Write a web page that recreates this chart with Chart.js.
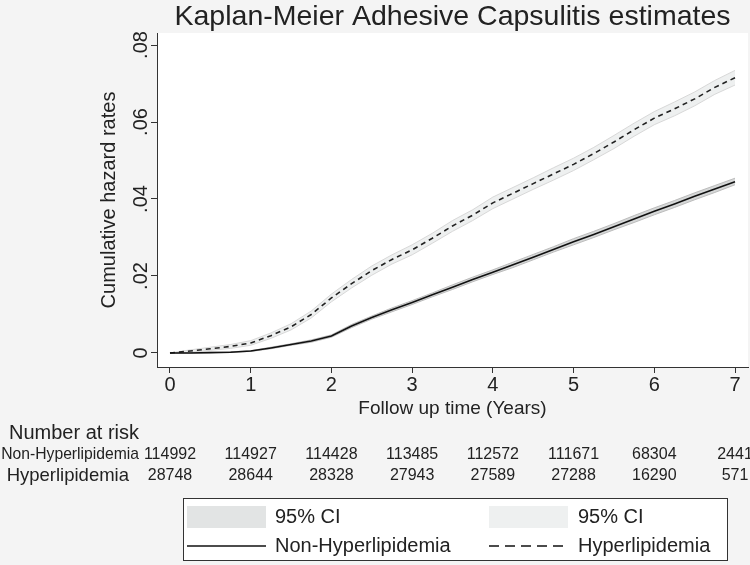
<!DOCTYPE html>
<html>
<head>
<meta charset="utf-8">
<script src="https://cdn.jsdelivr.net/npm/chart.js@4"></script>
<style>
  body { margin: 0; background: #f4f4f4; }
  #wrap { width: 750px; height: 565px; }
</style>
</head>
<body>
<div id="wrap"><canvas id="km" width="750" height="565"></canvas></div>
<script>
// follow up time (years) for the curves
const years = [0,0.25,0.5,0.75,1,1.25,1.5,1.75,2,2.25,2.5,2.75,3,3.25,3.5,3.75,4,4.25,4.5,4.75,5,5.25,5.5,5.75,6,6.25,6.5,6.75,7];

// cumulative hazard, Non-Hyperlipidemia
const nonRate = [0,0,0.0001,0.0002,0.0005,0.0013,0.0022,0.0031,0.0044,0.0070,0.0092,0.0112,0.0131,0.0151,0.0171,0.0191,0.0210,0.0229,0.0249,0.0269,0.0289,0.0308,0.0328,0.0348,0.0368,0.0387,0.0407,0.0426,0.0445];
const nonLow  = [0,0,0.0001,0.0002,0.0004,0.0011,0.0020,0.0028,0.0041,0.0066,0.0088,0.0107,0.0126,0.0146,0.0165,0.0185,0.0204,0.0222,0.0242,0.0262,0.0281,0.0300,0.0320,0.0339,0.0359,0.0378,0.0398,0.0417,0.0437];
const nonHigh = [0,0.0001,0.0002,0.0003,0.0006,0.0015,0.0024,0.0034,0.0047,0.0074,0.0096,0.0117,0.0136,0.0156,0.0177,0.0197,0.0216,0.0236,0.0256,0.0276,0.0297,0.0316,0.0336,0.0357,0.0377,0.0396,0.0416,0.0435,0.0454];

// cumulative hazard, Hyperlipidemia
const hypRate = [0,0.0005,0.0011,0.0017,0.0026,0.0045,0.0068,0.0100,0.0143,0.0180,0.0214,0.0243,0.0268,0.0298,0.0330,0.0358,0.0390,0.0415,0.0440,0.0465,0.0490,0.0518,0.0548,0.0580,0.0610,0.0634,0.0660,0.0690,0.0715];
const hypLow  = [0,0.0002,0.0007,0.0012,0.0020,0.0038,0.0060,0.0091,0.0133,0.0169,0.0202,0.0231,0.0255,0.0285,0.0316,0.0344,0.0375,0.0400,0.0425,0.0449,0.0474,0.0502,0.0531,0.0563,0.0593,0.0616,0.0642,0.0672,0.0696];
const hypHigh = [0,0.0008,0.0015,0.0022,0.0032,0.0052,0.0076,0.0109,0.0153,0.0191,0.0226,0.0255,0.0281,0.0311,0.0344,0.0372,0.0405,0.0430,0.0455,0.0481,0.0506,0.0534,0.0565,0.0597,0.0627,0.0652,0.0678,0.0708,0.0734];

// axes and number at risk
const xTicks = [0,1,2,3,4,5,6,7];
const yTicks = [0,0.02,0.04,0.06,0.08];
const yTickLabels = ["0",".02",".04",".06",".08"];
const nonRisk = [114992,114927,114428,113485,112572,111671,68304,2441];
const hypRisk = [28748,28644,28328,27943,27589,27288,16290,571];

const FONT = "'Liberation Sans', Arial, sans-serif";
const INK = "#222";
const nonBand = "#e2e4e4";
const hypBand = "#eef0f0";

function pts(arr) {
  return years.map((t, i) => ({ x: t, y: arr[i] }));
}

// background + white plot region
const bgPlugin = {
  id: "bg",
  beforeDraw(chart) {
    const ctx = chart.ctx, a = chart.chartArea;
    ctx.save();
    ctx.fillStyle = "#f4f4f4";
    ctx.fillRect(0, 0, chart.width, chart.height);
    ctx.fillStyle = "#fff";
    ctx.fillRect(a.left, a.top, a.right - a.left, a.bottom - a.top);
    ctx.restore();
  }
};

// titles, tick labels, risk table, legend
const textPlugin = {
  id: "texts",
  afterDraw(chart) {
    const ctx = chart.ctx, a = chart.chartArea;
    const xs = chart.scales.x, ys = chart.scales.y;
    ctx.save();
    ctx.fillStyle = INK;
    ctx.textBaseline = "middle";

    ctx.textAlign = "center";
    ctx.font = "28.5px " + FONT;
    ctx.fillText("Kaplan-Meier Adhesive Capsulitis estimates", (a.left + a.right) / 2, 17);

    ctx.font = "20px " + FONT;
    xTicks.forEach(v => ctx.fillText(String(v), xs.getPixelForValue(v), 385));
    ctx.font = "19px " + FONT;
    ctx.fillText("Follow up time (Years)", (a.left + a.right) / 2, 409);

    yTicks.forEach((v, i) => {
      ctx.save();
      ctx.translate(141, ys.getPixelForValue(v));
      ctx.rotate(-Math.PI / 2);
      ctx.font = "20px " + FONT;
      ctx.fillText(yTickLabels[i], 0, 0);
      ctx.restore();
    });
    ctx.save();
    ctx.translate(109, (a.top + a.bottom) / 2);
    ctx.rotate(-Math.PI / 2);
    ctx.font = "20px " + FONT;
    ctx.fillText("Cumulative hazard rates", 0, 0);
    ctx.restore();

    // number at risk
    ctx.textAlign = "left";
    ctx.font = "20px " + FONT;
    ctx.fillText("Number at risk", 9, 433);
    ctx.textAlign = "right";
    ctx.font = "15.7px " + FONT;
    ctx.fillText("Non-Hyperlipidemia", 139, 455);
    ctx.font = "18.5px " + FONT;
    ctx.fillText("Hyperlipidemia", 129, 476);
    ctx.textAlign = "center";
    ctx.font = "16px " + FONT;
    xTicks.forEach((v, i) => {
      const px = xs.getPixelForValue(v);
      ctx.fillText(String(nonRisk[i]), px, 455);
      ctx.fillText(String(hypRisk[i]), px, 476);
    });

    // legend box
    ctx.fillStyle = "#fff";
    ctx.fillRect(183, 498, 545, 63);
    ctx.strokeStyle = "#333";
    ctx.lineWidth = 1;
    ctx.strokeRect(183.5, 498.5, 544, 62);
    ctx.fillStyle = nonBand;
    ctx.fillRect(187, 506, 79, 22);
    ctx.fillStyle = hypBand;
    ctx.fillRect(489, 506, 79, 22);
    ctx.strokeStyle = "#111";
    ctx.lineWidth = 1.6;
    ctx.beginPath();
    ctx.moveTo(187, 546); ctx.lineTo(266, 546);
    ctx.stroke();
    ctx.setLineDash([10, 6]);
    ctx.beginPath();
    ctx.moveTo(489, 546); ctx.lineTo(568, 546);
    ctx.stroke();
    ctx.setLineDash([]);
    ctx.fillStyle = INK;
    ctx.textAlign = "left";
    ctx.font = "20px " + FONT;
    ctx.fillText("95% CI", 275, 517);
    ctx.fillText("Non-Hyperlipidemia", 275, 546);
    ctx.fillText("95% CI", 578, 517);
    ctx.fillText("Hyperlipidemia", 578, 546);
    ctx.restore();
  }
};

const axisGrid = { drawOnChartArea: false, drawTicks: true, tickLength: 6, color: "#333", lineWidth: 1 };

new Chart(document.getElementById("km"), {
  type: "line",
  data: {
    datasets: [
      { label: "Non-Hyperlipidemia", data: pts(nonRate), borderColor: "#111", borderWidth: 1.6, pointRadius: 0, fill: false },
      { label: "Hyperlipidemia", data: pts(hypRate), borderColor: "#222", borderWidth: 1.6, borderDash: [5, 4], pointRadius: 0, fill: false },
      { label: "95% CI low", data: pts(nonLow), borderColor: "#bcbcbc", borderWidth: 1, pointRadius: 0, fill: false },
      { label: "95% CI", data: pts(nonHigh), borderColor: "#bcbcbc", borderWidth: 1, pointRadius: 0, backgroundColor: "#d6d8d8", fill: "-1" },
      { label: "95% CI low", data: pts(hypLow), borderColor: "#d8d8d8", borderWidth: 1, pointRadius: 0, fill: false },
      { label: "95% CI", data: pts(hypHigh), borderColor: "#d8d8d8", borderWidth: 1, pointRadius: 0, backgroundColor: hypBand, fill: "-1" }
    ]
  },
  options: {
    responsive: false,
    animation: false,
    layout: { padding: { left: 151, top: 33, right: 2, bottom: 192 } },
    plugins: { legend: { display: false }, title: { display: false }, tooltip: { enabled: false } },
    scales: {
      x: {
        type: "linear",
        min: -0.161, max: 7.161,
        afterBuildTicks: s => { s.ticks = xTicks.map(v => ({ value: v })); },
        ticks: { display: false },
        grid: axisGrid,
        border: { color: "#333", width: 1 }
      },
      y: {
        type: "linear",
        min: -0.00364, max: 0.08312,
        afterBuildTicks: s => { s.ticks = yTicks.map(v => ({ value: v })); },
        ticks: { display: false },
        grid: axisGrid,
        border: { color: "#333", width: 1 }
      }
    }
  },
  plugins: [bgPlugin, textPlugin]
});
</script>
</body>
</html>
